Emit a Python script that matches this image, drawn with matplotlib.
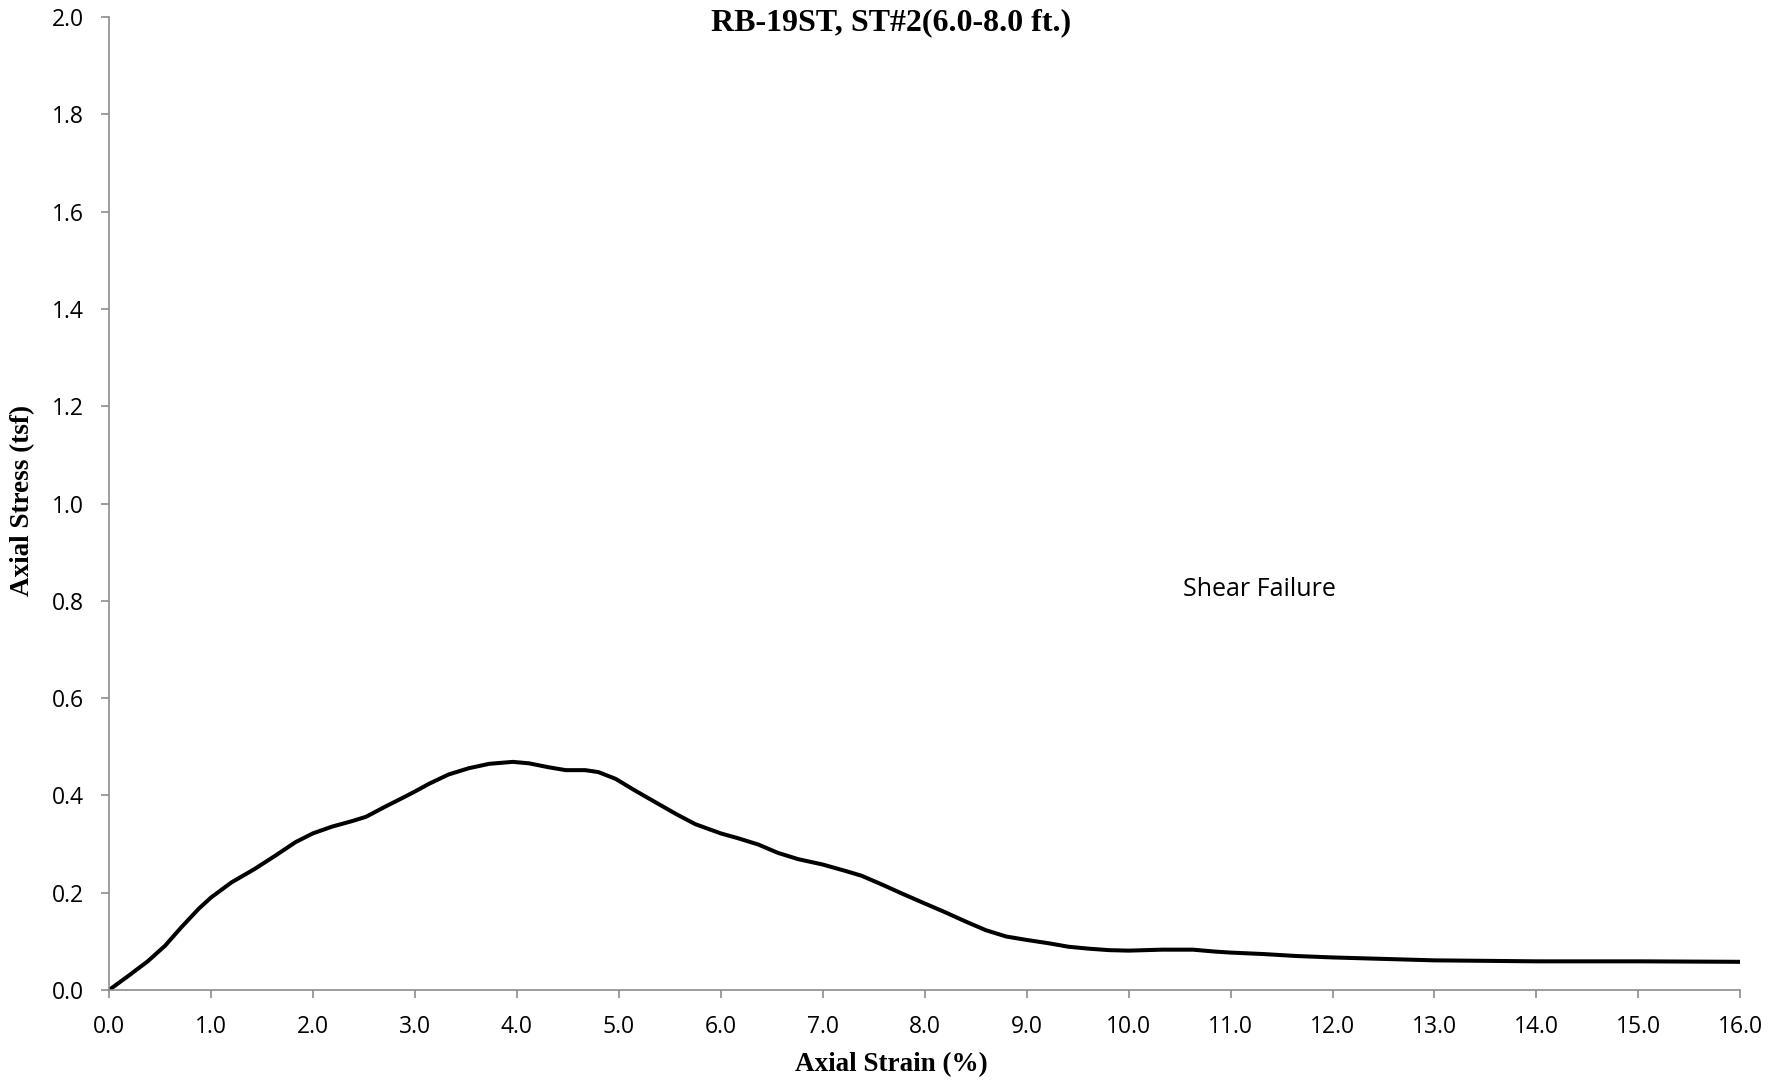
import matplotlib.pyplot as plt
from matplotlib.ticker import MultipleLocator, FormatStrFormatter

# values
axial_strain = [0.0, 0.19, 0.38, 0.55, 0.71, 0.88, 1.0, 1.2, 1.43, 1.63, 1.83, 2.0, 2.19,
                2.38, 2.52, 2.71, 2.88, 3.0, 3.14, 3.33, 3.53, 3.73, 3.96, 4.12, 4.31,
                4.48, 4.67, 4.8, 4.97, 5.16, 5.36, 5.56, 5.75, 6.0, 6.17, 6.37, 6.56,
                6.76, 7.0, 7.22, 7.38, 7.58, 7.77, 8.0, 8.2, 8.4, 8.6, 8.8, 9.0, 9.22,
                9.41, 9.61, 9.81, 10.0, 10.33, 10.63, 10.85, 11.0, 11.32, 11.64, 12.0,
                12.5, 13.0, 13.5, 14.0, 15.0, 16.0]
axial_stress = [0.0, 0.029, 0.059, 0.091, 0.129, 0.167, 0.19, 0.221, 0.249, 0.276, 0.304,
                0.322, 0.336, 0.347, 0.356, 0.377, 0.395, 0.408, 0.424, 0.443, 0.456,
                0.465, 0.469, 0.466, 0.458, 0.452, 0.452, 0.448, 0.434, 0.41, 0.386,
                0.362, 0.341, 0.322, 0.312, 0.299, 0.282, 0.269, 0.258, 0.245, 0.235,
                0.217, 0.199, 0.178, 0.16, 0.141, 0.123, 0.11, 0.103, 0.096, 0.089, 0.085,
                0.082, 0.081, 0.083, 0.083, 0.079, 0.077, 0.074, 0.07, 0.067, 0.064,
                0.061, 0.06, 0.059, 0.059, 0.058]

title = "RB-19ST, ST#2(6.0-8.0 ft.)"
annotation = "Shear Failure"

plt.rcParams["font.family"] = ["Open Sans", "DejaVu Sans"]
axis_gray = "#8c8c8c"

fig = plt.figure(figsize=(17.83, 10.8), dpi=100)
ax = fig.add_axes([0.0611, 0.0833, 0.9150, 0.9009])

ax.plot(axial_strain, axial_stress, color="black", linewidth=2.9,
        solid_joinstyle="round", solid_capstyle="round")

ax.set_xlim(0, 16)
ax.set_ylim(0, 2.0)
ax.xaxis.set_major_locator(MultipleLocator(1.0))
ax.yaxis.set_major_locator(MultipleLocator(0.2))
ax.xaxis.set_major_formatter(FormatStrFormatter("%.1f"))
ax.yaxis.set_major_formatter(FormatStrFormatter("%.1f"))

for side in ["top", "right"]:
    ax.spines[side].set_visible(False)
for side in ["left", "bottom"]:
    ax.spines[side].set_color(axis_gray)
    ax.spines[side].set_linewidth(1.2)

ax.tick_params(axis="both", direction="out", length=6, width=1.2, color=axis_gray,
               labelsize=16.5, labelcolor="black")
ax.tick_params(axis="x", pad=12)
ax.tick_params(axis="y", pad=12)

ax.text(11.28, 0.823, annotation, fontsize=18, ha="center", va="center")

fig.text(0.5, 1 - 23 / 1080, title, ha="center", va="center", fontsize=23,
         fontweight="bold", family="Liberation Serif")
fig.text(0.5, 1 - 1065 / 1080, "Axial Strain (%)", ha="center", va="center",
         fontsize=19.5, fontweight="bold", family="Liberation Serif")
fig.text(23 / 1783, 1 - 500 / 1080, "Axial Stress (tsf)", ha="center", va="center",
         rotation=90, fontsize=19.5, fontweight="bold", family="Liberation Serif")

fig.savefig("out.png", dpi=100)
